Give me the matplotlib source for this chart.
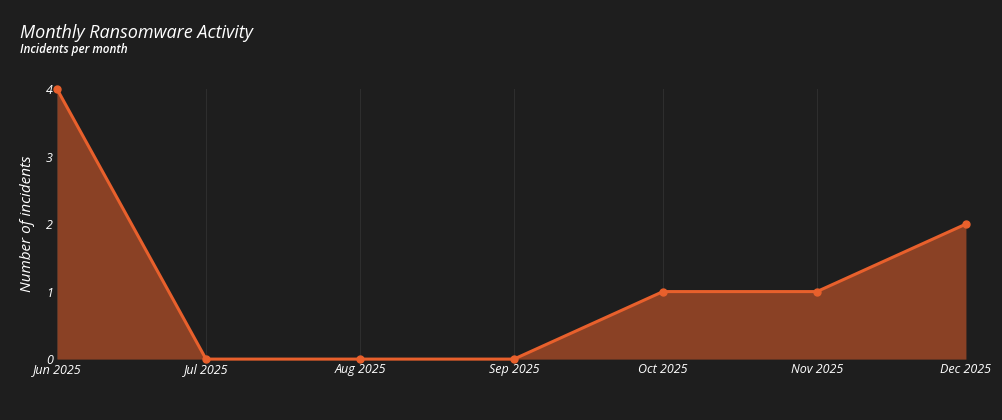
import matplotlib
matplotlib.use("Agg")
import matplotlib.pyplot as plt
import pandas as pd

months = ["2025-06-01", "2025-07-01", "2025-08-01", "2025-09-01", "2025-10-01", "2025-11-01", "2025-12-01"]
tick_labels = ["Jun 2025", "Jul 2025", "Aug 2025", "Sep 2025", "Oct 2025", "Nov 2025", "Dec 2025"]
incidents = [4, 0, 0, 0, 1, 1, 2]

BG = "#1e1e1e"
LINE = "#e8602c"
FILL = "#8a4125"

plt.rcParams["font.family"] = ["Open Sans", "DejaVu Sans"]
dates = pd.to_datetime(months)

fig = plt.figure(figsize=(10.02, 4.2), dpi=100, facecolor=BG)
ax = fig.add_axes([0.0569, 0.145, 0.9071, 0.643], facecolor=BG)
ax.set_axisbelow(True)

ax.fill_between(dates, incidents, 0, color=FILL, linewidth=0, zorder=2)
ax.plot(dates, incidents, color=LINE, linewidth=2.2, marker="o", markersize=5, clip_on=False, zorder=3)

ax.set_xlim(dates[0], dates[-1])
ax.set_ylim(0, 4)
ax.set_xticks(dates)
ax.set_xticklabels(tick_labels)
ax.set_yticks([0, 1, 2, 3, 4])
ax.tick_params(colors="white", labelsize=9, length=0, pad=3)
for lbl in ax.get_xticklabels() + ax.get_yticklabels():
    lbl.set_fontstyle("italic")
ax.grid(axis="x", color="#2e2e2e", linewidth=0.8, zorder=0)
for s in ax.spines.values():
    s.set_visible(False)

ax.set_ylabel("Number of incidents", color="white", fontsize=11, fontstyle="italic", labelpad=8)

fig.text(0.02, 0.91, "Monthly Ransomware Activity", color="white", fontsize=13, fontstyle="italic")
fig.text(0.02, 0.875, "Incidents per month", color="white", fontsize=8.5, fontstyle="italic", fontweight="semibold")

fig.savefig("out.png", dpi=100, facecolor=BG)
